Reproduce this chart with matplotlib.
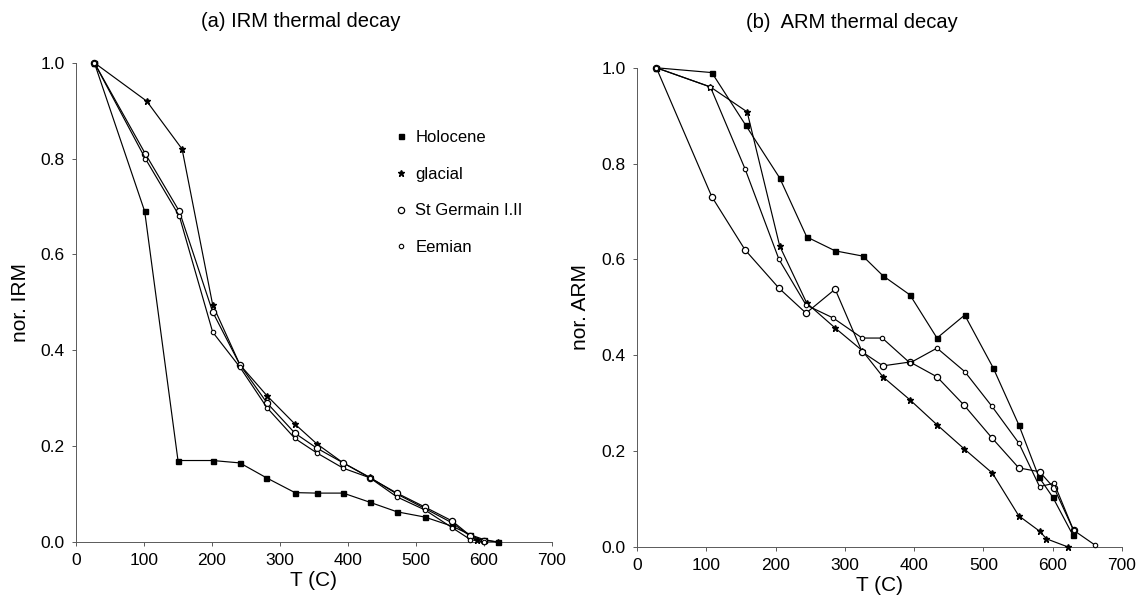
import matplotlib
matplotlib.use('Agg')
import matplotlib.pyplot as plt
from matplotlib.lines import Line2D

plt.rcParams['font.family'] = ['Liberation Sans', 'DejaVu Sans']

# (a) IRM thermal decay
irm_holocene_t = [27, 101, 150, 201, 241, 280, 322, 354, 393, 432, 472, 513, 553, 580, 600, 620]
irm_holocene = [1.0, 0.69, 0.17, 0.17, 0.165, 0.134, 0.103, 0.102, 0.102, 0.083, 0.063, 0.052, 0.033, 0.015, 0.005, 0.0]

irm_glacial_t = [27, 104, 156, 201, 241, 281, 322, 354, 393, 432, 472, 513, 553, 580, 590, 620]
irm_glacial = [1.0, 0.92, 0.82, 0.495, 0.37, 0.305, 0.246, 0.205, 0.165, 0.135, 0.10, 0.07, 0.04, 0.012, 0.005, 0.0]

irm_stg_t = [27, 102, 152, 201, 241, 281, 322, 354, 393, 432, 472, 513, 553, 580, 600]
irm_stg = [1.0, 0.81, 0.69, 0.48, 0.37, 0.29, 0.227, 0.196, 0.165, 0.134, 0.102, 0.073, 0.044, 0.013, 0.003]

irm_eem_t = [27, 102, 152, 201, 241, 281, 322, 354, 393, 432, 472, 513, 553, 580, 600]
irm_eem = [1.0, 0.80, 0.68, 0.438, 0.365, 0.28, 0.216, 0.186, 0.154, 0.134, 0.094, 0.067, 0.03, 0.005, 0.0]

# (b) ARM thermal decay
arm_holocene_t = [28, 108, 157, 206, 245, 286, 326, 355, 394, 433, 473, 514, 551, 580, 600, 629]
arm_holocene = [1.0, 0.99, 0.88, 0.77, 0.647, 0.618, 0.607, 0.566, 0.526, 0.436, 0.484, 0.374, 0.255, 0.146, 0.104, 0.025]

arm_glacial_t = [28, 106, 159, 206, 245, 286, 325, 355, 394, 433, 472, 513, 551, 581, 591, 622]
arm_glacial = [1.0, 0.96, 0.908, 0.628, 0.509, 0.457, 0.41, 0.355, 0.307, 0.255, 0.205, 0.154, 0.065, 0.033, 0.017, 0.0]

arm_stg_t = [28, 108, 156, 205, 244, 286, 325, 355, 394, 433, 472, 512, 551, 581, 602, 630]
arm_stg = [1.0, 0.731, 0.62, 0.54, 0.488, 0.538, 0.407, 0.378, 0.386, 0.355, 0.296, 0.228, 0.165, 0.157, 0.123, 0.035]

arm_eem_t = [28, 106, 156, 205, 244, 283, 325, 354, 394, 433, 473, 512, 551, 581, 602, 630, 661]
arm_eem = [1.0, 0.96, 0.789, 0.60, 0.505, 0.478, 0.436, 0.436, 0.384, 0.415, 0.366, 0.294, 0.217, 0.126, 0.133, 0.035, 0.004]

series_names = ["Holocene", "glacial", "St Germain I.II", "Eemian"]

styles = {
    "Holocene": dict(marker="s", markersize=3.6, mfc="black", mec="black"),
    "glacial": dict(marker="*", markersize=5, mfc="black", mec="black"),
    "St Germain I.II": dict(marker="o", markersize=4.5, mfc="white", mec="black", mew=0.9),
    "Eemian": dict(marker="o", markersize=3.2, mfc="white", mec="black", mew=0.8),
}

fig = plt.figure(figsize=(11.36, 6.02), dpi=100)
ax1 = fig.add_axes([0.0669, 0.0997, 0.419, 0.796])
ax2 = fig.add_axes([0.5607, 0.0914, 0.427, 0.796])

irm = [(irm_holocene_t, irm_holocene), (irm_glacial_t, irm_glacial),
       (irm_stg_t, irm_stg), (irm_eem_t, irm_eem)]
arm = [(arm_holocene_t, arm_holocene), (arm_glacial_t, arm_glacial),
       (arm_stg_t, arm_stg), (arm_eem_t, arm_eem)]

for ax, data in [(ax1, irm), (ax2, arm)]:
    for name, (t, v) in zip(series_names, data):
        ax.plot(t, v, color="black", lw=0.85, clip_on=False, zorder=3, **styles[name])
    ax.set_xlim(0, 700)
    ax.set_ylim(0, 1.0)
    ax.set_xticks(range(0, 701, 100))
    ax.set_yticks([0, 0.2, 0.4, 0.6, 0.8, 1.0])
    ax.set_yticklabels(["0.0", "0.2", "0.4", "0.6", "0.8", "1.0"])
    for s in ["top", "right"]:
        ax.spines[s].set_visible(False)
    for s in ["left", "bottom"]:
        ax.spines[s].set_color("0.35")
        ax.spines[s].set_linewidth(0.7)
    ax.tick_params(labelsize=12.5, length=3, width=0.7, color="0.35", pad=5)
    ax.set_xlabel("T (C)", fontsize=15, labelpad=2)

ax1.set_ylabel("nor. IRM", fontsize=15, labelpad=8)
ax2.set_ylabel("nor. ARM", fontsize=15, labelpad=8)
ax1.set_title("(a) IRM thermal decay", fontsize=14.5, pad=26, x=0.473)
ax2.set_title("(b)  ARM thermal decay", fontsize=14.5, pad=29, x=0.443)

handles = [Line2D([], [], linestyle="none", color="black", **styles[n]) for n in series_names]
ax1.legend(handles, series_names, loc="upper left", frameon=False, fontsize=12,
           handlelength=0.7, handletextpad=0.5, labelspacing=1.3,
           borderpad=0, borderaxespad=0,
           bbox_to_anchor=(0.348, 0.784), bbox_transform=fig.transFigure)

plt.savefig("out.png", dpi=100)
plt.close()
